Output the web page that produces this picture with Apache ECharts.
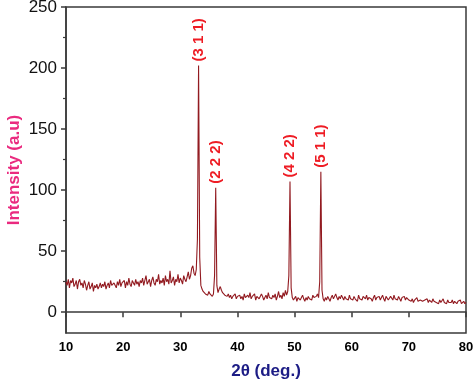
<!DOCTYPE html>
<html>
<head>
<meta charset="utf-8">
<script src="https://cdn.jsdelivr.net/npm/echarts@6/dist/echarts.min.js"></script>
<style>html,body{margin:0;padding:0;background:#fff}#c{width:474px;height:384px}</style>
</head>
<body>
<div id="c"></div>
<script>
// 2-theta sampling grid (degrees)
const thetaStart = 10;
const thetaStep = 0.2;
// intensity, one value per grid step (10.0 .. 80.0)
const intensity = [
25,22,27,20,26,24,28,21,23,26,19,25,27,22,24,20,26,23,18,22,25,19,21,24,17,22,20,23,19,21,24,
20,23,21,25,19,22,24,20,26,22,21,24,23,20,25,22,27,21,24,23,26,20,25,22,28,23,21,26,24,22,27,23,25,21,26,
24,28,22,26,30,23,25,27,21,26,29,24,22,27,25,31,23,26,24,28,22,30,25,27,23,34,24,26,29,22,27,25,31,24,28,26,23,30,27,
25,29,33,27,30,36,38,
32,30,35,
60,202,45,
22,19,17,18,15,16,14,17,15,
16,13,15,
30,102,22,
16,19,21,18,16,17,14,15,
13,15,12,14,11,13,12,15,11,13,
12,14,11,13,10,15,12,11,14,12,16,11,13,12,15,10,13,14,11,12,15,13,10,12,14,11,16,12,13,11,14,12,15,10,13,17,12,14,11,16,13,18,14,17,30,
107,20,
12,10,11,13,9,12,11,10,12,14,11,9,12,10,13,11,12,10,14,12,11,13,15,
12,25,115,18,
11,9,12,10,13,11,9,12,14,11,13,15,12,10,13,11,14,12,10,13,11,12,10,14,11,12,
10,13,11,12,9,14,11,12,10,13,12,11,14,10,12,13,11,9,12,14,10,12,11,13,10,12,14,11,9,13,12,10,11,13,12,10,14,11,12,10,13,11,9,12,11,13,10,12,11,10,
10,9,11,8,10,9,12,9,8,10,11,9,8,10,9,11,8,10,9,8,11,9,10,8,9,7,10,8,9,11,8,9,7,10,8,9,8,10,7,9,8,7,9,8,10,7,8,9,7,8
];
// peak labels (Miller indices) and their 2-theta positions
const peakNames = ['(3 1 1)', '(2 2 2)', '(4 2 2)', '(5 1 1)'];
const peakTheta = [33.2, 36.2, 49.2, 54.6];
// axis ticks
const xTicks = [10, 20, 30, 40, 50, 60, 70, 80];
const yMajor = [0, 50, 100, 150, 200, 250];
const yMinor = [25, 75, 125, 175, 225];

const data = intensity.map((v, i) => [+(thetaStart + i * thetaStep).toFixed(2), v]);
const peakMarks = peakNames.map((name, k) => {
  const idx = Math.round((peakTheta[k] - thetaStart) / thetaStep);
  return {name: name, coord: [peakTheta[k], intensity[idx]]};
});

const chart = echarts.init(document.getElementById('c'), null, {renderer: 'canvas'});
chart.setOption({
  animation: false,
  backgroundColor: '#fff',
  grid: {left: 66, right: 8, top: 7, bottom: 51, show: true, borderColor: '#3a3a3a', borderWidth: 1.5,
    containLabel: false, outerBoundsMode: 'none'},
  xAxis: {
    type: 'value', min: 10, max: 80, interval: 10,
    name: '2θ (deg.)', nameLocation: 'middle', nameGap: 30, nameMoveOverlap: false,
    nameTextStyle: {color: '#1c1c85', fontSize: 17, fontWeight: 'bold', fontFamily: 'Liberation Sans, Arial'},
    axisLine: {lineStyle: {color: '#3a3a3a', width: 1.5}},
    axisTick: {inside: false, length: 5, lineStyle: {color: '#3a3a3a', width: 1.5}},
    axisLabel: {color: '#000', fontSize: 13, fontWeight: 'bold', fontFamily: 'Liberation Sans, Arial', margin: 8,
      customValues: xTicks},
    splitLine: {show: false}
  },
  yAxis: [{
    type: 'value', min: -17, max: 250,
    name: 'Intensity (a.u)', nameLocation: 'middle', nameGap: 43, nameMoveOverlap: false,
    nameTextStyle: {color: '#ea2a7f', fontSize: 17, fontWeight: 'bold', fontFamily: 'Liberation Sans, Arial'},
    axisLine: {lineStyle: {color: '#3a3a3a', width: 1.5}},
    axisTick: {inside: false, length: 5, customValues: yMajor, lineStyle: {color: '#3a3a3a', width: 1.5}},
    axisLabel: {color: '#111', fontSize: 17, fontFamily: 'Liberation Sans, Arial', margin: 9, customValues: yMajor},
    splitLine: {show: false}
  }, {
    type: 'value', min: -17, max: 250, position: 'left',
    axisLine: {show: false},
    axisTick: {show: true, inside: false, length: 3, customValues: yMinor, lineStyle: {color: '#3a3a3a', width: 1.2}},
    axisLabel: {show: false},
    splitLine: {show: false}
  }],
  series: [{
    type: 'line', data: data, showSymbol: false, symbol: 'none',
    lineStyle: {color: '#921a20', width: 1.1},
    itemStyle: {color: '#921a20'},
    markPoint: {
      symbol: 'circle', symbolSize: 0, silent: true,
      itemStyle: {color: 'transparent'},
      label: {
        show: true, formatter: '{b}', position: 'top', distance: 4,
        rotate: 90, align: 'left', verticalAlign: 'middle',
        color: '#ee1c24', fontSize: 15, fontWeight: 'bold', fontFamily: 'Liberation Sans, Arial'
      },
      data: peakMarks
    }
  }]
});
</script>
</body>
</html>
